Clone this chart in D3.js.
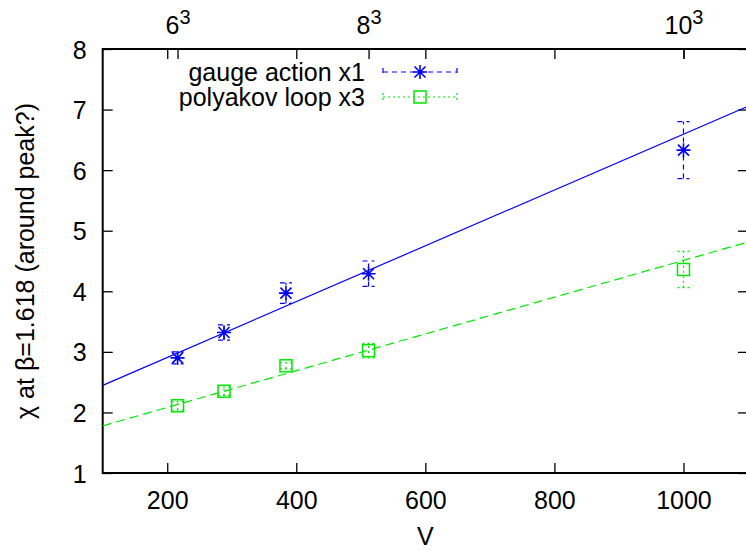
<!DOCTYPE html>
<html>
<head>
<meta charset="utf-8">
<script src="https://cdn.jsdelivr.net/npm/d3@7"></script>
<style>
  html, body { margin: 0; padding: 0; background: #fff; }
  svg { display: block; }
  text { font-family: "Liberation Sans", Arial, Helvetica, sans-serif; fill: #000; }
</style>
</head>
<body>
<svg id="chart" width="746" height="551"></svg>
<script>
// ---------- data ----------
const volumes = [216, 288, 384, 512, 1000];
const gaugeValues = [2.90, 3.32, 3.97, 4.29, 6.33];
const gaugeErrors = [0.10, 0.125, 0.17, 0.21, 0.47];
const polyValues = [2.11, 2.35, 2.77, 3.02, 4.36];
const polyErrors = [0.07, 0.07, 0.05, 0.12, 0.30];
const seriesNames = ["gauge action x1", "polyakov loop x3"];
const fitIntercepts = [1.985, 1.475];
const fitSlopes = [0.00461, 0.003035];
const xTickValues = [200, 400, 600, 800, 1000];
const yTickValues = [1, 2, 3, 4, 5, 6, 7, 8];
const x2TickValues = [216, 512, 1000];
const x2TickBases = ["6", "8", "10"];
const x2TickExps = ["3", "3", "3"];
const xDomain = [100, 1100];
const yDomain = [1, 8];
const xLabel = "V";
const yLabel = "\u03c7 at \u03b2=1.618 (around peak?)";

// ---------- layout ----------
const L = 102.7, R = 748, T = 49, B = 473;
const FONT = 25;
const blue = "#0000ff", green = "#00e800";

const svg = d3.select("#chart");
const x = d3.scaleLinear().domain(xDomain).range([L, R]);
const y = d3.scaleLinear().domain(yDomain).range([B, T]);

svg.append("defs").append("clipPath").attr("id", "clip")
  .append("rect").attr("x", L).attr("y", T).attr("width", R - L).attr("height", B - T);

function styleAxis(g) {
  g.select(".domain").remove();
  g.selectAll(".tick line").attr("stroke", "#000").attr("stroke-width", 1.3);
  g.selectAll("text").attr("font-size", FONT).attr("font-family", "Liberation Sans, Arial, sans-serif").attr("fill", "#000");
}

// bottom axis
const gB = svg.append("g").attr("transform", `translate(0,${B})`)
  .call(d3.axisBottom(x).tickValues(xTickValues).tickSize(-10).tickPadding(18).tickFormat(d3.format("d")));
styleAxis(gB);
// top mirror ticks (x1)
const gTm = svg.append("g").attr("transform", `translate(0,${T})`)
  .call(d3.axisTop(x).tickValues(xTickValues).tickSize(-10).tickFormat(""));
styleAxis(gTm);
// top x2 axis
const gT = svg.append("g").attr("transform", `translate(0,${T})`)
  .call(d3.axisTop(x).tickValues(x2TickValues).tickSize(-10).tickPadding(15).tickFormat(""));
styleAxis(gT);
gT.selectAll(".tick text").each(function(d, i) {
  const t = d3.select(this);
  t.text(null).attr("dy", 0).attr("text-anchor", "middle");
  t.append("tspan").text(x2TickBases[i]);
  t.append("tspan").attr("font-size", FONT * 0.8).attr("dy", -10).text(x2TickExps[i]);
});
// left axis
const gL = svg.append("g").attr("transform", `translate(${L},0)`)
  .call(d3.axisLeft(y).tickValues(yTickValues).tickSize(-10).tickPadding(16).tickFormat(d3.format("d")));
styleAxis(gL);
gL.selectAll(".tick text").attr("dy", "0.36em");
// right mirror
const gR = svg.append("g").attr("transform", `translate(${R},0)`)
  .call(d3.axisRight(y).tickValues(yTickValues).tickSize(-10).tickFormat(""));
styleAxis(gR);

// border
svg.append("rect").attr("x", L).attr("y", T).attr("width", R - L).attr("height", B - T)
  .attr("fill", "none").attr("stroke", "#000").attr("stroke-width", 2);

// axis labels
svg.append("text").attr("x", (L + R) / 2).attr("y", 545).attr("text-anchor", "middle")
  .attr("font-size", FONT).text(xLabel);
svg.append("text").attr("transform", `translate(34,${(T + B) / 2}) rotate(-90)`)
  .attr("text-anchor", "middle").attr("font-size", FONT).text(yLabel);

// ---------- series ----------
const plot = svg.append("g").attr("clip-path", "url(#clip)");

const series = [
  { name: seriesNames[0], vals: gaugeValues, errs: gaugeErrors, color: blue, dash: "5,4", fitDash: null, marker: "star" },
  { name: seriesNames[1], vals: polyValues, errs: polyErrors, color: green, dash: "2,3", fitDash: "9,5", marker: "square" }
];

function drawMarker(g, type, cx, cy, color) {
  if (type === "star") {
    const s = 7, d = 5.5;
    const p = `M${cx - s},${cy}H${cx + s}M${cx},${cy - s}V${cy + s}` +
      `M${cx - d},${cy - d}L${cx + d},${cy + d}M${cx - d},${cy + d}L${cx + d},${cy - d}`;
    g.append("path").attr("d", p).attr("stroke", color).attr("stroke-width", 1.6).attr("fill", "none");
  } else {
    const s = 6;
    g.append("rect").attr("x", cx - s).attr("y", cy - s).attr("width", 2 * s).attr("height", 2 * s)
      .attr("fill", "none").attr("stroke", color).attr("stroke-width", 1.5);
  }
}

series.forEach((s, si) => {
  const fit = xDomain.map(v => [x(v), y(fitIntercepts[si] + fitSlopes[si] * v)]);
  plot.append("path").attr("d", d3.line()(fit)).attr("fill", "none")
    .attr("stroke", s.color).attr("stroke-width", 1.2)
    .attr("stroke-dasharray", s.fitDash);
  const g = plot.append("g");
  volumes.forEach((v, i) => {
    const cx = x(v), y0 = y(s.vals[i] - s.errs[i]), y1 = y(s.vals[i] + s.errs[i]);
    const cap = 6;
    g.append("path")
      .attr("d", `M${cx},${y0}V${y1}M${cx - cap},${y0}H${cx + cap}M${cx - cap},${y1}H${cx + cap}`)
      .attr("stroke", s.color).attr("stroke-width", 1.2).attr("fill", "none")
      .attr("stroke-dasharray", s.dash);
    drawMarker(g, s.marker, cx, y(s.vals[i]), s.color);
  });
});

// ---------- legend ----------
const legY = [72, 97];
const legTextX = 365, legX0 = 383, legX1 = 457;
series.forEach((s, si) => {
  const ly = legY[si];
  svg.append("text").attr("x", legTextX).attr("y", ly).attr("dy", "0.36em")
    .attr("text-anchor", "end").attr("font-size", FONT).text(s.name);
  svg.append("path")
    .attr("d", `M${legX0},${ly}H${legX1}M${legX0},${ly - 4}V${ly + 4}M${legX1},${ly - 4}V${ly + 4}`)
    .attr("stroke", s.color).attr("stroke-width", 1.2).attr("fill", "none")
    .attr("stroke-dasharray", s.dash);
  drawMarker(svg, s.marker, (legX0 + legX1) / 2, ly, s.color);
});
</script>
</body>
</html>
